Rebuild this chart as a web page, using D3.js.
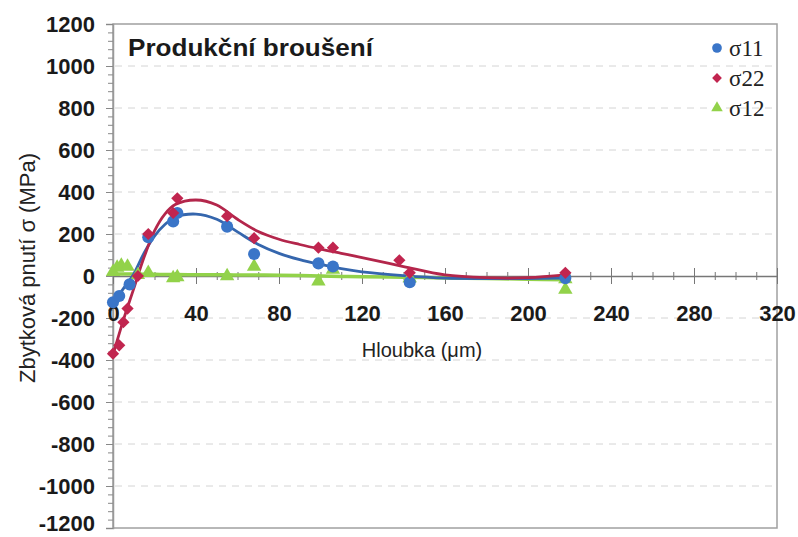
<!DOCTYPE html>
<html>
<head>
<meta charset="utf-8">
<script src="https://cdn.jsdelivr.net/npm/d3@7"></script>
<style>
  body { margin: 0; background: #fff; }
  svg { display: block; }
</style>
</head>
<body>
<div id="chart"></div>
<script>
// measured points (depth in um, stress in MPa)
const depth11 = [0, 3, 8, 17, 29, 31, 55, 68, 99, 106, 143, 218];
const sigma11 = [-125, -95, -40, 185, 260, 300, 235, 105, 60, 45, -30, -10];

const depth22 = [0, 3, 5, 7, 12, 17, 29, 31, 55, 68, 99, 106, 138, 143, 218];
const sigma22 = [-370, -330, -220, -155, 0, 200, 300, 370, 285, 180, 135, 135, 75, 15, 15];

const depth12 = [0, 2, 4, 7, 12, 17, 29, 31, 55, 68, 99, 106, 143, 218, 218];
const sigma12 = [20, 40, 50, 45, 5, 15, -10, -5, 0, 45, -25, 30, -10, -65, -15];

// fitted trend lines
const fitDepth = [0, 5, 10, 15, 20, 25, 30, 40, 50, 60, 70, 80, 90, 100, 110, 120, 140, 160, 180, 200, 218];
const fit11 = [-130, -60, 10, 110, 190, 245, 280, 295, 270, 210, 150, 108, 78, 55, 35, 20, 2, -10, -12, -12, -10];
const fit22 = [-375, -210, -60, 90, 215, 295, 340, 362, 338, 270, 212, 175, 150, 128, 108, 88, 45, 5, -8, -8, 5];
const fit12 = [10, 9, 9, 8, 8, 7, 7, 6, 6, 5, 5, 4, 2, 0, -2, -3, -6, -9, -12, -15, -18];

const xTicks = [0, 40, 80, 120, 160, 200, 240, 280, 320];
const yTicks = [-1200, -1000, -800, -600, -400, -200, 0, 200, 400, 600, 800, 1000, 1200];

const seriesNames = ['σ11', 'σ22', 'σ12'];

const width = 798, height = 537;
const margin = { top: 24, right: 20, bottom: 9, left: 113 };
const innerW = 777 - margin.left;
const innerH = 528 - margin.top;

const blue = '#3a75c8', red = '#c1254f', green = '#92d24a';
const plain = d => String(d);

const svg = d3.select('#chart').append('svg')
    .attr('width', width)
    .attr('height', height)
    .style('font-family', 'Liberation Sans, Arial, sans-serif');

const x = d3.scaleLinear().domain([0, 320]).range([margin.left, margin.left + innerW]);
const y = d3.scaleLinear().domain([-1200, 1200]).range([margin.top + innerH, margin.top]);

// dashed grid
svg.append('g')
  .selectAll('line')
  .data(yTicks.filter(d => d !== 0 && Math.abs(d) !== 1200))
  .enter().append('line')
    .attr('x1', x(0) + 2).attr('x2', x(320) - 2)
    .attr('y1', d => y(d)).attr('y2', d => y(d))
    .attr('stroke', '#d4d4d4')
    .attr('stroke-width', 1)
    .attr('stroke-dasharray', '7,6');

// frame
svg.append('rect')
    .attr('x', x(0)).attr('y', y(1200))
    .attr('width', innerW).attr('height', innerH)
    .attr('fill', 'none')
    .attr('stroke', '#a0a0a0')
    .attr('stroke-width', 1.5);

// y axis, minor ticks every 40
const yAxis = svg.append('g').attr('transform', 'translate(' + x(0) + ',0)');
yAxis.call(d3.axisLeft(y).tickValues(d3.range(-1200, 1201, 40)).tickSize(5).tickFormat(''));
yAxis.call(g => g.select('.domain').remove());
yAxis.selectAll('line').attr('stroke', '#888');
const yMajor = svg.append('g').attr('transform', 'translate(' + x(0) + ',0)')
  .call(d3.axisLeft(y).tickValues(yTicks).tickFormat(plain).tickSize(7).tickPadding(11));
yMajor.select('.domain').attr('stroke', '#999').attr('stroke-width', 1.5);
yMajor.selectAll('line').attr('stroke', '#888');
yMajor.selectAll('text')
    .attr('font-size', 22).attr('font-weight', 'bold').attr('fill', '#1a1a1a')
    .attr('font-family', 'Liberation Sans, Arial, sans-serif');
// keep the bottom label inside the window
yMajor.selectAll('.tick').filter(d => d === -1200).select('text').attr('dy', '0.1em');

// x axis at zero, ticks crossing the line
const xMinor = svg.append('g').attr('transform', 'translate(0,' + y(0) + ')')
  .call(d3.axisBottom(x).tickValues(d3.range(0, 321, 10)).tickSizeInner(4).tickSizeOuter(0).tickFormat(''));
xMinor.selectAll('.tick line').attr('y1', -4).attr('stroke', '#777');
xMinor.select('.domain').attr('stroke', '#777').attr('stroke-width', 1.5);
const xMajor = svg.append('g').attr('transform', 'translate(0,' + y(0) + ')')
  .call(d3.axisBottom(x).tickValues(xTicks).tickFormat(plain).tickSizeInner(8).tickSizeOuter(0).tickPadding(21));
xMajor.select('.domain').remove();
xMajor.selectAll('.tick line').attr('y1', -8).attr('stroke', '#777');
xMajor.selectAll('text')
    .attr('font-size', 22).attr('font-weight', 'bold').attr('fill', '#1a1a1a')
    .attr('font-family', 'Liberation Sans, Arial, sans-serif');

// fit lines
const line = d3.line().curve(d3.curveCatmullRom.alpha(0.5))
    .x(d => x(d[0])).y(d => y(d[1]));
const fits = [
  { v: fit12, c: green, w: 3.5 },
  { v: fit11, c: '#3566ad', w: 2.8 },
  { v: fit22, c: '#b3264b', w: 2.8 }
];
fits.forEach(f => {
  svg.append('path')
    .datum(fitDepth.map((d, i) => [d, f.v[i]]))
    .attr('d', line)
    .attr('fill', 'none')
    .attr('stroke', f.c)
    .attr('stroke-width', f.w);
});

// markers
const circle = d3.symbol().type(d3.symbolCircle).size(115);
const square = d3.symbol().type(d3.symbolSquare).size(75);
const triangle = d3.symbol().type(d3.symbolTriangle).size(90);

function drawPoints(xs, ys, sym, color, rot) {
  svg.append('g').selectAll('path')
    .data(xs.map((d, i) => [d, ys[i]]))
    .enter().append('path')
      .attr('d', sym)
      .attr('transform', d => 'translate(' + x(d[0]) + ',' + y(d[1]) + ') rotate(' + rot + ')')
      .attr('fill', color);
}
drawPoints(depth12, sigma12, triangle, green, 0);
drawPoints(depth11, sigma11, circle, blue, 0);
drawPoints(depth22, sigma22, square, red, 45);

// title
svg.append('text')
    .attr('x', 128).attr('y', 56)
    .attr('font-size', 23).attr('font-weight', 'bold').attr('fill', '#1a1a1a')
    .attr('textLength', 245).attr('lengthAdjust', 'spacingAndGlyphs')
    .text('Produkční broušení');

// axis titles
svg.append('text')
    .attr('x', 422).attr('y', 357)
    .attr('text-anchor', 'middle')
    .attr('font-size', 20).attr('fill', '#222')
    .text('Hloubka (μm)');

svg.append('text')
    .attr('transform', 'translate(35,268) rotate(-90)')
    .attr('text-anchor', 'middle')
    .attr('font-size', 22).attr('fill', '#222')
    .text('Zbytková pnutí  σ  (MPa)');

// legend
const legendSyms = [circle, square, triangle];
const legendColors = [blue, red, green];
const legend = svg.append('g');
seriesNames.forEach((name, i) => {
  const ly = 48 + i * 30;
  legend.append('path')
    .attr('d', legendSyms[i])
    .attr('transform', 'translate(717,' + ly + ') rotate(' + (i === 1 ? 45 : 0) + ') scale(0.8)')
    .attr('fill', legendColors[i]);
  legend.append('text')
    .attr('x', 729).attr('y', ly + 8)
    .attr('font-family', 'Liberation Serif, Times New Roman, serif')
    .attr('font-size', 23).attr('fill', '#222')
    .text(name);
});
</script>
</body>
</html>
